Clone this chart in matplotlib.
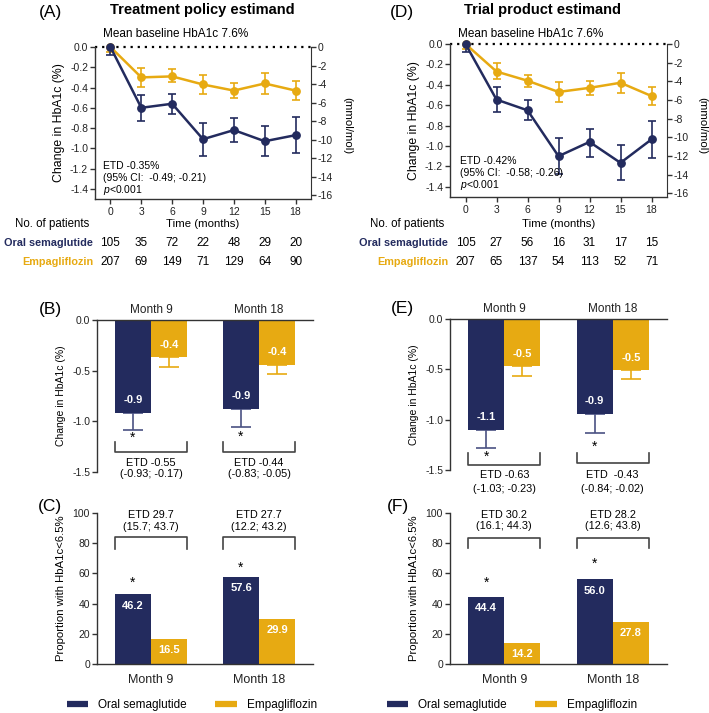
import matplotlib
matplotlib.use("Agg")
import matplotlib.pyplot as plt
from matplotlib.lines import Line2D

plt.rcParams['font.family'] = ['Liberation Sans', 'DejaVu Sans']
plt.rcParams['mathtext.fontset'] = 'custom'
plt.rcParams['mathtext.rm'] = 'Liberation Sans'
plt.rcParams['mathtext.it'] = 'Liberation Sans:italic'
plt.rcParams['axes.unicode_minus'] = False

NAVY = '#232b5e'
GOLD = '#e7aa12'
AXC = '#333333'
W, H = 709, 713

# ---- data ----
months = [0, 3, 6, 9, 12, 15, 18]

# treatment policy estimand, change in HbA1c (%) over time
tp_sema = [0, -0.60, -0.56, -0.91, -0.82, -0.93, -0.87]
tp_sema_lo = [-0.08, -0.73, -0.66, -1.08, -0.94, -1.08, -1.05]
tp_sema_hi = [0.08, -0.47, -0.46, -0.75, -0.70, -0.78, -0.69]
tp_empa = [0, -0.30, -0.29, -0.37, -0.43, -0.36, -0.43]
tp_empa_lo = [-0.05, -0.39, -0.35, -0.46, -0.50, -0.46, -0.52]
tp_empa_hi = [0.05, -0.21, -0.22, -0.28, -0.36, -0.26, -0.34]

# trial product estimand
pr_sema = [0, -0.545, -0.65, -1.10, -0.96, -1.165, -0.935]
pr_sema_lo = [-0.075, -0.67, -0.745, -1.27, -1.11, -1.335, -1.12]
pr_sema_hi = [0.075, -0.42, -0.55, -0.92, -0.83, -0.995, -0.75]
pr_empa = [0, -0.27, -0.36, -0.47, -0.43, -0.38, -0.51]
pr_empa_lo = [-0.05, -0.345, -0.42, -0.57, -0.50, -0.48, -0.60]
pr_empa_hi = [0.05, -0.19, -0.30, -0.37, -0.36, -0.28, -0.42]

# number of patients
tp_n_sema = [105, 35, 72, 22, 48, 29, 20]
tp_n_empa = [207, 69, 149, 71, 129, 64, 90]
pr_n_sema = [105, 27, 56, 16, 31, 17, 15]
pr_n_empa = [207, 65, 137, 54, 113, 52, 71]

groups = ['Month 9', 'Month 18']

# change at month 9 / 18 (bars, lower error only)
tp_bar_sema = [-0.92, -0.88]
tp_bar_sema_err = [0.17, 0.18]
tp_bar_empa = [-0.37, -0.44]
tp_bar_empa_err = [0.09, 0.09]
tp_bar_etd = ['ETD -0.55', 'ETD -0.44']
tp_bar_ci = ['(-0.93; -0.17)', '(-0.83; -0.05)']

pr_bar_sema = [-1.10, -0.94]
pr_bar_sema_err = [0.18, 0.19]
pr_bar_empa = [-0.47, -0.51]
pr_bar_empa_err = [0.10, 0.09]
pr_bar_etd = ['ETD -0.63', 'ETD  -0.43']
pr_bar_ci = ['(-1.03; -0.23)', '(-0.84; -0.02)']

# proportion with HbA1c < 6.5%
tp_prop_sema = [46.2, 57.6]
tp_prop_empa = [16.5, 29.9]
tp_prop_etd = ['ETD 29.7', 'ETD 27.7']
tp_prop_ci = ['(15.7; 43.7)', '(12.2; 43.2)']

pr_prop_sema = [44.4, 56.0]
pr_prop_empa = [14.2, 27.8]
pr_prop_etd = ['ETD 30.2', 'ETD 28.2']
pr_prop_ci = ['(16.1; 44.3)', '(12.6; 43.8)']


def px_axes(fig, l, r, top, bot):
    return fig.add_axes([l / W, 1 - bot / H, (r - l) / W, (bot - top) / H])


def ftext(fig, x, y, s, **kw):
    return fig.text(x / W, 1 - y / H, s, **kw)


def style_left(ax):
    for s in ['top', 'right', 'bottom', 'left']:
        ax.spines[s].set_color(AXC)
        ax.spines[s].set_linewidth(1.0)
    ax.tick_params(axis='y', colors=AXC, labelcolor='#222222', labelsize=7.5,
                   length=3.5, width=1.0, direction='out', pad=1.5)


def line_panel(fig, box, sema, s_lo, s_hi, empa, e_lo, e_hi, n_sema, n_empa,
               letter, title, etd_lines, lx, tx, label_right):
    ax = px_axes(fig, *box)
    style_left(ax)
    ax.spines['top'].set_visible(False)
    ax.axhline(0, ls=(0, (1, 2.2)), color='black', lw=1.6, zorder=1, clip_on=False)
    for mean, lo, hi, c in [(empa, e_lo, e_hi, GOLD), (sema, s_lo, s_hi, NAVY)]:
        yerr = [[m - l for m, l in zip(mean, lo)], [h - m for m, h in zip(mean, hi)]]
        ax.errorbar(months, mean, yerr=yerr, fmt='none', ecolor=c, elinewidth=1.2,
                    capsize=3.2, capthick=1.2, zorder=2)
        ax.plot(months, mean, color=c, lw=1.8, marker='o', ms=5.3, zorder=3, clip_on=False)
    ax.set_xlim(-1.5, 19.5)
    ax.set_ylim(-1.5, 0)
    ax.set_xticks(months)
    ax.tick_params(axis='x', colors=AXC, labelcolor='#222222', labelsize=7.5,
                   length=3.5, width=1.0, pad=2)
    yt = [0, -0.2, -0.4, -0.6, -0.8, -1.0, -1.2, -1.4]
    ax.set_yticks(yt)
    ax.set_yticklabels(['%.1f' % v for v in yt])
    ax.spines['right'].set_visible(False)
    sec = ax.secondary_yaxis('right', functions=(lambda v: v * 10.93, lambda v: v / 10.93))
    sec.set_yticks(list(range(0, -17, -2)))
    sec.spines['right'].set_color(AXC)
    sec.tick_params(colors=AXC, labelcolor='#222222', labelsize=7.5, length=3.5, width=1.0, pad=1.5)
    ax.text(-0.165, 0.5, 'Change in HbA1c (%)', transform=ax.transAxes, rotation=90,
            ha='center', va='center', fontsize=8.8)
    ftext(fig, label_right, 126, '(mmol/mol)', rotation=270, ha='center', va='center', fontsize=8.2)

    l, r, top, bot = box
    ftext(fig, lx, 13, letter, ha='center', va='center', fontsize=12.5)
    ftext(fig, tx, 10, title, ha='center', va='center', fontsize=10.5, fontweight='bold')
    ftext(fig, l + 8, 34, 'Mean baseline HbA1c 7.6%', ha='left', va='center', fontsize=8.5)
    shift = l > 300
    for i, s in enumerate(etd_lines):
        ftext(fig, l + 8 + (2 if shift else 0), bot - 33 + 12 * i - (3 if shift else 0),
              s, ha='left', va='center', fontsize=7.5)

    # patient table
    ftext(fig, (l + r) / 2, 224, 'Time (months)', ha='center', va='center', fontsize=8.2)
    ftext(fig, l - 80, 224, 'No. of patients', ha='left', va='center', fontsize=8.3)
    ftext(fig, l - 2, 243, 'Oral semaglutide', ha='right', va='center', fontsize=7.8,
          fontweight='bold', color=NAVY)
    ftext(fig, l - 2, 262, 'Empagliflozin', ha='right', va='center', fontsize=7.8,
          fontweight='bold', color=GOLD)
    for m, a, b in zip(months, n_sema, n_empa):
        xfig = fig.transFigure.inverted().transform(ax.transData.transform((m, 0)))[0]
        fig.text(xfig, 1 - 243 / H, str(a), ha='center', va='center', fontsize=8.5)
        fig.text(xfig, 1 - 262 / H, str(b), ha='center', va='center', fontsize=8.5)
    return ax


def change_panel(fig, box, sema, s_err, empa, e_err, etd, ci, letter, lx, br_lo, br_hi,
                 star_y, etd_y):
    ax = px_axes(fig, *box)
    style_left(ax)
    ax.spines['bottom'].set_visible(False)
    ax.spines['right'].set_visible(False)
    x = [0, 1]
    w = 1 / 3
    xs = [v - w / 2 for v in x]
    xe = [v + w / 2 for v in x]
    ax.bar(xs, sema, width=w, color=NAVY, zorder=2)
    ax.bar(xe, empa, width=w, color=GOLD, zorder=2)
    ax.errorbar(xs, sema, yerr=[s_err, [0, 0]], fmt='none', ecolor='#4a5283',
                elinewidth=1.2, capsize=7, capthick=1.2, zorder=1)
    ax.errorbar(xe, empa, yerr=[e_err, [0, 0]], fmt='none', ecolor=GOLD,
                elinewidth=1.2, capsize=7, capthick=1.2, zorder=1)
    for i in range(2):
        ax.text(xs[i], sema[i] + 0.13, '%.1f' % sema[i], ha='center', va='center',
                color='white', fontweight='bold', fontsize=8)
        ax.text(xe[i], empa[i] + 0.12, '%.1f' % empa[i], ha='center', va='center',
                color='white', fontweight='bold', fontsize=8)
        x0, x1 = x[i] - w, x[i] + w
        ax.plot([x0, x0, x1, x1], [br_hi[i], br_lo[i], br_lo[i], br_hi[i]], color='#444444',
                lw=1.2, clip_on=False)
        ax.text(xs[i], star_y[i], '*', ha='center', va='center', fontsize=10, clip_on=False)
        ax.text(x[i], etd_y[0], etd[i], ha='center', va='center', fontsize=7.8, clip_on=False)
        ax.text(x[i], etd_y[1], ci[i], ha='center', va='center', fontsize=7.8, clip_on=False)
    ax.set_xlim(-0.5, 1.5)
    ax.set_ylim(-1.5, 0)
    ax.set_yticks([0, -0.5, -1.0, -1.5])
    ax.set_yticklabels(['0.0', '-0.5', '-1.0', '-1.5'])
    ax.xaxis.tick_top()
    ax.set_xticks(x)
    ax.set_xticklabels(groups)
    ax.tick_params(axis='x', length=0, pad=3, labelsize=8.5, labelcolor='#222222')
    ax.text(-0.165, 0.5, 'Change in HbA1c (%)', transform=ax.transAxes, rotation=90,
            ha='center', va='center', fontsize=7.5)
    ftext(fig, lx, box[2] - 10, letter, ha='center', va='center', fontsize=12.5)
    return ax


def prop_panel(fig, box, sema, empa, etd, ci, letter, lx, br_hi, br_lo, star_y, etd_y):
    ax = px_axes(fig, *box)
    style_left(ax)
    ax.spines['top'].set_visible(False)
    ax.spines['right'].set_visible(False)
    x = [0, 1]
    w = 1 / 3
    xs = [v - w / 2 for v in x]
    xe = [v + w / 2 for v in x]
    ax.bar(xs, sema, width=w, color=NAVY, zorder=2)
    ax.bar(xe, empa, width=w, color=GOLD, zorder=2)
    for i in range(2):
        ax.text(xs[i], sema[i] - 7.5, '%.1f' % sema[i], ha='center', va='center',
                color='white', fontweight='bold', fontsize=8)
        ax.text(xe[i], empa[i] - 7.5, '%.1f' % empa[i], ha='center', va='center',
                color='white', fontweight='bold', fontsize=8)
        x0, x1 = x[i] - w, x[i] + w
        ax.plot([x0, x0, x1, x1], [br_lo[i], br_hi[i], br_hi[i], br_lo[i]], color='#444444',
                lw=1.2, clip_on=False)
        ax.text(xs[i], star_y[i], '*', ha='center', va='center', fontsize=10)
        ax.text(x[i], etd_y[i][0], etd[i], ha='center', va='center', fontsize=7.8, clip_on=False)
        ax.text(x[i], etd_y[i][1], ci[i], ha='center', va='center', fontsize=7.8, clip_on=False)
    ax.set_xlim(-0.5, 1.5)
    ax.set_ylim(0, 100)
    ax.set_yticks([0, 20, 40, 60, 80, 100])
    ax.set_xticks(x)
    ax.set_xticklabels(groups)
    ax.tick_params(axis='x', length=0, pad=7, labelsize=9, labelcolor='#222222')
    ax.text(-0.165, 0.5, 'Proportion with HbA1c<6.5%', transform=ax.transAxes, rotation=90,
            ha='center', va='center', fontsize=8.2)
    ftext(fig, lx, box[2] - 7, letter, ha='center', va='center', fontsize=12.5)
    return ax


fig = plt.figure(figsize=(W / 100, H / 100), dpi=100)

line_panel(fig, (95, 311, 47, 199), tp_sema, tp_sema_lo, tp_sema_hi, tp_empa, tp_empa_lo,
           tp_empa_hi, tp_n_sema, tp_n_empa, '(A)', 'Treatment policy estimand',
           ['ETD -0.35%', '(95% CI:  -0.49; -0.21)', r'$\it{p}$<0.001'], 50, 202, 347)
line_panel(fig, (450, 667, 44, 197), pr_sema, pr_sema_lo, pr_sema_hi, pr_empa, pr_empa_lo,
           pr_empa_hi, pr_n_sema, pr_n_empa, '(D)', 'Trial product estimand',
           ['ETD -0.42%', '(95% CI:  -0.58; -0.26)', r'$\it{p}$<0.001'], 402, 543, 702)

change_panel(fig, (97, 313, 320, 472), tp_bar_sema, tp_bar_sema_err, tp_bar_empa,
             tp_bar_empa_err, tp_bar_etd, tp_bar_ci, '(B)', 50,
             [-1.30, -1.30], [-1.20, -1.20], [-1.165, -1.15], (-1.41, -1.52))
change_panel(fig, (450, 667, 319, 470), pr_bar_sema, pr_bar_sema_err, pr_bar_empa,
             pr_bar_empa_err, pr_bar_etd, pr_bar_ci, '(E)', 402,
             [-1.45, -1.43], [-1.33, -1.33], [-1.37, -1.27], (-1.55, -1.69))

prop_panel(fig, (97, 313, 513, 664), tp_prop_sema, tp_prop_empa, tp_prop_etd, tp_prop_ci,
           '(C)', 50, [84, 84], [76, 76], [53.6, 63.4], [(98.9, 90.7), (98.9, 90.7)])
prop_panel(fig, (450, 667, 513, 664), pr_prop_sema, pr_prop_empa, pr_prop_etd, pr_prop_ci,
           '(F)', 398, [83.4, 83.4], [76.8, 76.8], [54.1, 66.4], [(98.9, 91.2), (98.9, 91.2)])

handles = [Line2D([], [], color=NAVY, lw=4.5, solid_capstyle='butt'),
           Line2D([], [], color=GOLD, lw=4.5, solid_capstyle='butt')]
names = ['Oral semaglutide', 'Empagliflozin']
for cx in [192, 512]:
    fig.legend(handles, names, loc='center', bbox_to_anchor=(cx / W, 1 - 705 / H), ncol=2,
               frameon=False, fontsize=8.5, handlelength=1.8, handletextpad=0.9,
               columnspacing=2.4, borderpad=0, borderaxespad=0)

fig.savefig('out.png', dpi=100)
